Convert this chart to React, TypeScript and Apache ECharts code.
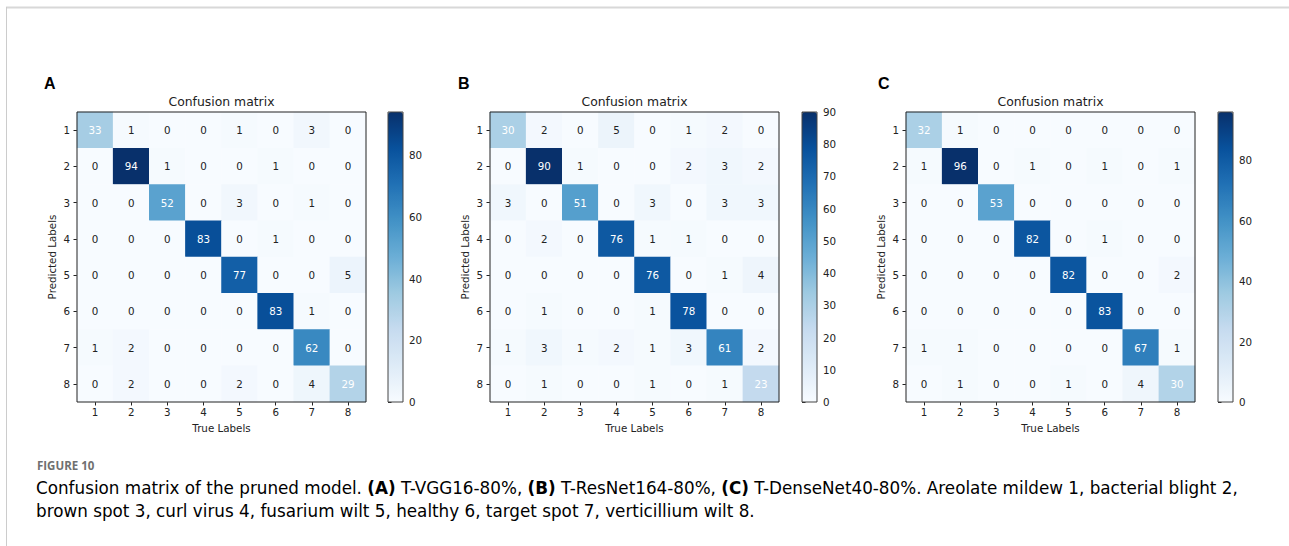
import React, { useEffect, useRef } from "react";
import * as echarts from "echarts";

const classLabels = ["1", "2", "3", "4", "5", "6", "7", "8"];

const matrixA = [
  [33, 1, 0, 0, 1, 0, 3, 0],
  [0, 94, 1, 0, 0, 1, 0, 0],
  [0, 0, 52, 0, 3, 0, 1, 0],
  [0, 0, 0, 83, 0, 1, 0, 0],
  [0, 0, 0, 0, 77, 0, 0, 5],
  [0, 0, 0, 0, 0, 83, 1, 0],
  [1, 2, 0, 0, 0, 0, 62, 0],
  [0, 2, 0, 0, 2, 0, 4, 29],
];
const matrixB = [
  [30, 2, 0, 5, 0, 1, 2, 0],
  [0, 90, 1, 0, 0, 2, 3, 2],
  [3, 0, 51, 0, 3, 0, 3, 3],
  [0, 2, 0, 76, 1, 1, 0, 0],
  [0, 0, 0, 0, 76, 0, 1, 4],
  [0, 1, 0, 0, 1, 78, 0, 0],
  [1, 3, 1, 2, 1, 3, 61, 2],
  [0, 1, 0, 0, 1, 0, 1, 23],
];
const matrixC = [
  [32, 1, 0, 0, 0, 0, 0, 0],
  [1, 96, 0, 1, 0, 1, 0, 1],
  [0, 0, 53, 0, 0, 0, 0, 0],
  [0, 0, 0, 82, 0, 1, 0, 0],
  [0, 0, 0, 0, 82, 0, 0, 2],
  [0, 0, 0, 0, 0, 83, 0, 0],
  [1, 1, 0, 0, 0, 0, 67, 1],
  [0, 1, 0, 0, 1, 0, 4, 30],
];
const matrices = [matrixA, matrixB, matrixC];
const panelLetters = ["A", "B", "C"];
const colorbarMax = [94, 90, 96];
const colorbarTicksA = [0, 20, 40, 60, 80];
const colorbarTicksB = [0, 10, 20, 30, 40, 50, 60, 70, 80, 90];
const colorbarTicksC = [0, 20, 40, 60, 80];
const colorbarTicks = [colorbarTicksA, colorbarTicksB, colorbarTicksC];

const chartTitle = "Confusion matrix";
const xName = "True Labels";
const yName = "Predicted Labels";
const figureLabel = "FIGURE 10";

const BLUES = ["#f7fbff", "#deebf7", "#c6dbef", "#9ecae1", "#6baed6", "#4292c6", "#2171b5", "#08519c", "#08306b"];
const MPL = "'DejaVu Sans', sans-serif";
const BASE = 10.3;

const heatLeft = [77, 490, 906];
const cbLeft = [388, 802, 1218];
const TOP = 112;
const W = 289;
const H = 290;
const CBW = 15;

export default function App() {
  const ref = useRef<HTMLDivElement>(null);
  useEffect(() => {
    if (!ref.current) return;
    const chart = echarts.init(ref.current, undefined, { renderer: "svg" });

    const grid: any[] = [];
    const xAxis: any[] = [];
    const yAxis: any[] = [];
    const series: any[] = [];
    const visualMap: any[] = [];
    const graphic: any[] = [];

    matrices.forEach((m, p) => {
      const gi = grid.length;
      grid.push({
        left: heatLeft[p], top: TOP, width: W, height: H,
        show: true, borderColor: "#222", borderWidth: 1, backgroundColor: "transparent", z: 10,
      });
      xAxis.push({
        type: "category", gridIndex: gi, data: classLabels, position: "bottom",
        name: xName, nameLocation: "middle", nameGap: 21,
        nameTextStyle: { fontFamily: MPL, fontSize: BASE, color: "#222" },
        axisLine: { show: false },
        axisTick: { show: true, alignWithLabel: true, length: 3.5, lineStyle: { color: "#222" } },
        axisLabel: { fontFamily: MPL, fontSize: BASE, color: "#222", margin: 5 },
        splitLine: { show: false },
      });
      yAxis.push({
        type: "category", gridIndex: gi, data: classLabels, inverse: true,
        name: yName, nameLocation: "middle", nameGap: 20,
        nameTextStyle: { fontFamily: MPL, fontSize: BASE, color: "#222" },
        axisLine: { show: false },
        axisTick: { show: true, alignWithLabel: true, length: 3.5, lineStyle: { color: "#222" } },
        axisLabel: { fontFamily: MPL, fontSize: BASE, color: "#222", margin: 7 },
        splitLine: { show: false },
      });
      const data: any[] = [];
      m.forEach((row, r) =>
        row.forEach((v, c) => {
          data.push({ value: [c, r, v], label: { color: v >= 20 ? "#ffffff" : "#222222" } });
        })
      );
      const si = series.length;
      series.push({
        type: "heatmap", xAxisIndex: gi, yAxisIndex: gi, data,
        label: { show: true, fontFamily: MPL, fontSize: BASE },
        itemStyle: { borderWidth: 0 },
        emphasis: { disabled: true },
      });
      visualMap.push({
        type: "continuous", seriesIndex: si, min: 0, max: colorbarMax[p], dimension: 2,
        calculable: false, orient: "vertical", left: cbLeft[p], top: TOP,
        itemWidth: CBW, itemHeight: H, padding: 0, text: null, hoverLink: false,
        inRange: { color: BLUES }, realtime: false,
      });
      const cgi = grid.length;
      grid.push({
        left: cbLeft[p], top: TOP, width: CBW, height: H,
        show: true, borderColor: "#444", borderWidth: 1, backgroundColor: "transparent", z: 10,
      });
      xAxis.push({ type: "value", gridIndex: cgi, show: false, min: 0, max: 1 });
      yAxis.push({
        type: "value", gridIndex: cgi, min: 0, max: colorbarMax[p],
        position: "right",
        axisLine: { show: false },
        axisTick: { show: true, length: 3.5, lineStyle: { color: "#222" }, customValues: colorbarTicks[p] },
        axisLabel: { fontFamily: MPL, fontSize: BASE, color: "#222", margin: 6, customValues: colorbarTicks[p] },
        splitLine: { show: false },
      });

      graphic.push({
        type: "text", x: heatLeft[p] + W / 2, y: 101,
        style: { text: chartTitle, font: `12.4px ${MPL}`, fill: "#222", align: "center", verticalAlign: "middle" },
      });
      graphic.push({
        type: "text", x: [44, 458, 878][p], y: 83,
        style: { text: panelLetters[p], font: `bold 16px 'Liberation Sans', Arial, sans-serif`, fill: "#000", align: "left", verticalAlign: "middle" },
      });
    });

    graphic.push({ type: "line", shape: { x1: 6, y1: 7.5, x2: 1289, y2: 7.5 }, style: { stroke: "#d8d8d8", lineWidth: 2 } });
    graphic.push({ type: "line", shape: { x1: 6.5, y1: 7, x2: 6.5, y2: 546 }, style: { stroke: "#cccccc", lineWidth: 1 } });

    graphic.push({
      type: "text", x: 37, y: 465,
      style: { text: figureLabel, font: `bold 11.5px 'Open Sans', sans-serif`, fill: "#707070", align: "left", verticalAlign: "middle" },
    });
    const capFont = "'DejaVu Sans', sans-serif";
    const rich = {
      n: { fontFamily: capFont, fontSize: 16.8, color: "#858585" },
      b: { fontFamily: capFont, fontSize: 16.8, color: "#6a6a6a", fontWeight: "bold" },
    };
    graphic.push({
      type: "text", x: 36, y: 488,
      style: {
        text: "{n|Confusion matrix of the pruned model. }{b|(A)}{n| T-VGG16-80%, }{b|(B)}{n| T-ResNet164-80%, }{b|(C)}{n| T-DenseNet40-80%. Areolate mildew 1, bacterial blight 2,}",
        rich, align: "left", verticalAlign: "middle",
      },
    });
    graphic.push({
      type: "text", x: 36, y: 511,
      style: {
        text: "{n|brown spot 3, curl virus 4, fusarium wilt 5, healthy 6, target spot 7, verticillium wilt 8.}",
        rich, align: "left", verticalAlign: "middle",
      },
    });

    chart.setOption({
      animation: false,
      backgroundColor: "#ffffff",
      grid, xAxis, yAxis, series, visualMap, graphic,
    });
    return () => chart.dispose();
  }, []);
  return <div ref={ref} style={{ position: "absolute", left: 0, top: 0, width: 1289, height: 546 }} />;
}
